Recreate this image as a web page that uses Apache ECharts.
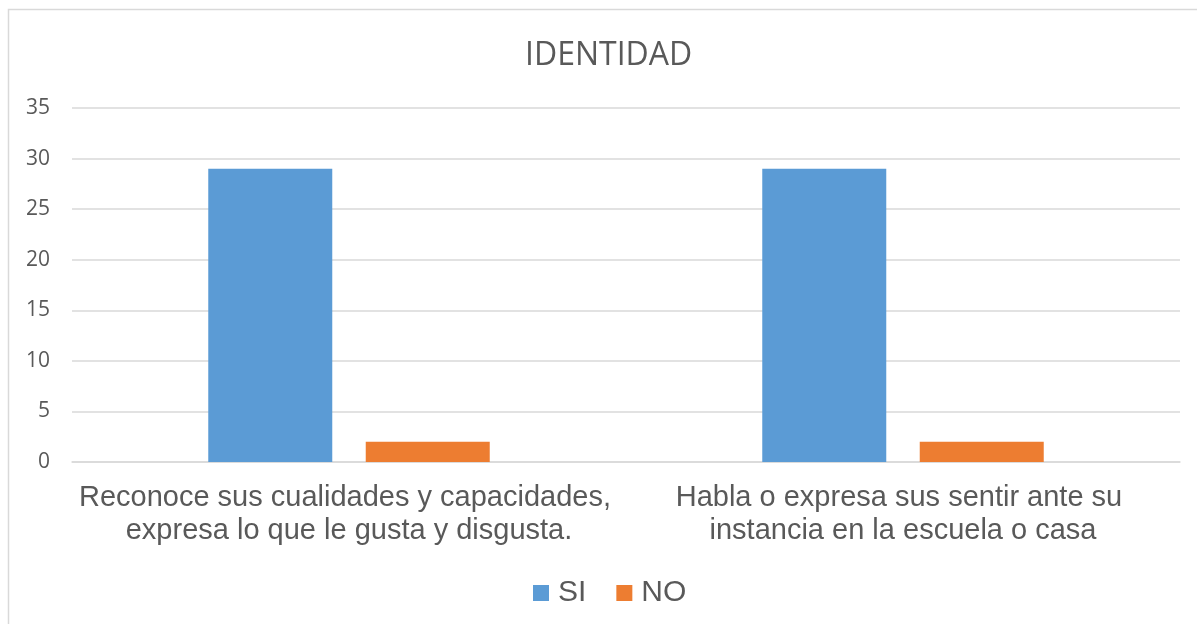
<!DOCTYPE html>
<html>
<head>
<meta charset="utf-8">
<script src="https://cdn.jsdelivr.net/npm/echarts@6/dist/echarts.min.js"></script>
<style>
  html, body { margin: 0; padding: 0; background: #fff; }
  #chart { width: 1197px; height: 624px; }
</style>
</head>
<body>
<div id="chart"></div>
<script>
// data
const chartTitle = 'IDENTIDAD';
const categories = [
    'Reconoce sus cualidades y capacidades, expresa lo que le gusta y disgusta.',
    'Habla o expresa sus sentir ante su instancia en la escuela o casa'
];
const seriesNames = ['SI', 'NO'];
const siValues = [29, 29];
const noValues = [2, 2];

const textColor = '#595959';
const chart = echarts.init(document.getElementById('chart'));

chart.setOption({
    backgroundColor: '#fff',
    animation: false,
    color: ['#5b9bd5', '#ed7d31'],
    title: {
        text: chartTitle,
        left: 525,
        top: 40,
        padding: 0,
        textStyle: {
            fontFamily: 'Open Sans',
            fontSize: 32,
            fontWeight: 'normal',
            color: textColor
        }
    },
    graphic: [{
        type: 'rect',
        silent: true,
        shape: { x: 8.5, y: 9.5, width: 1300, height: 700 },
        style: { fill: 'none', stroke: '#d9d9d9', lineWidth: 1.5 }
    }],
    legend: {
        data: seriesNames,
        left: 533,
        top: 578,
        padding: 0,
        itemWidth: 16,
        itemHeight: 16,
        itemGap: 30,
        icon: 'rect',
        textStyle: {
            fontFamily: 'Liberation Sans',
            fontSize: 30,
            color: textColor,
            padding: [0, 0, 0, 4]
        }
    },
    grid: {
        left: 72,
        right: 17,
        top: 108,
        bottom: 162,
        containLabel: false
    },
    xAxis: {
        type: 'category',
        data: categories,
        axisTick: { show: false },
        axisLine: { lineStyle: { color: '#d9d9d9', width: 1.5 } },
        axisLabel: {
            interval: 0,
            margin: 19,
            width: 555,
            overflow: 'break',
            lineHeight: 33,
            fontFamily: 'Liberation Sans',
            fontSize: 29,
            color: textColor
        }
    },
    yAxis: {
        type: 'value',
        min: 0,
        max: 35,
        interval: 5,
        axisLine: { show: false },
        axisTick: { show: false },
        splitLine: { lineStyle: { color: '#d9d9d9', width: 1.5 } },
        axisLabel: {
            margin: 22,
            fontFamily: 'Open Sans',
            fontSize: 21,
            color: textColor
        }
    },
    series: [
        {
            name: seriesNames[0],
            type: 'bar',
            data: siValues,
            barWidth: 124,
            barGap: '27%'
        },
        {
            name: seriesNames[1],
            type: 'bar',
            data: noValues,
            barWidth: 124,
            barGap: '27%'
        }
    ]
});
</script>
</body>
</html>
